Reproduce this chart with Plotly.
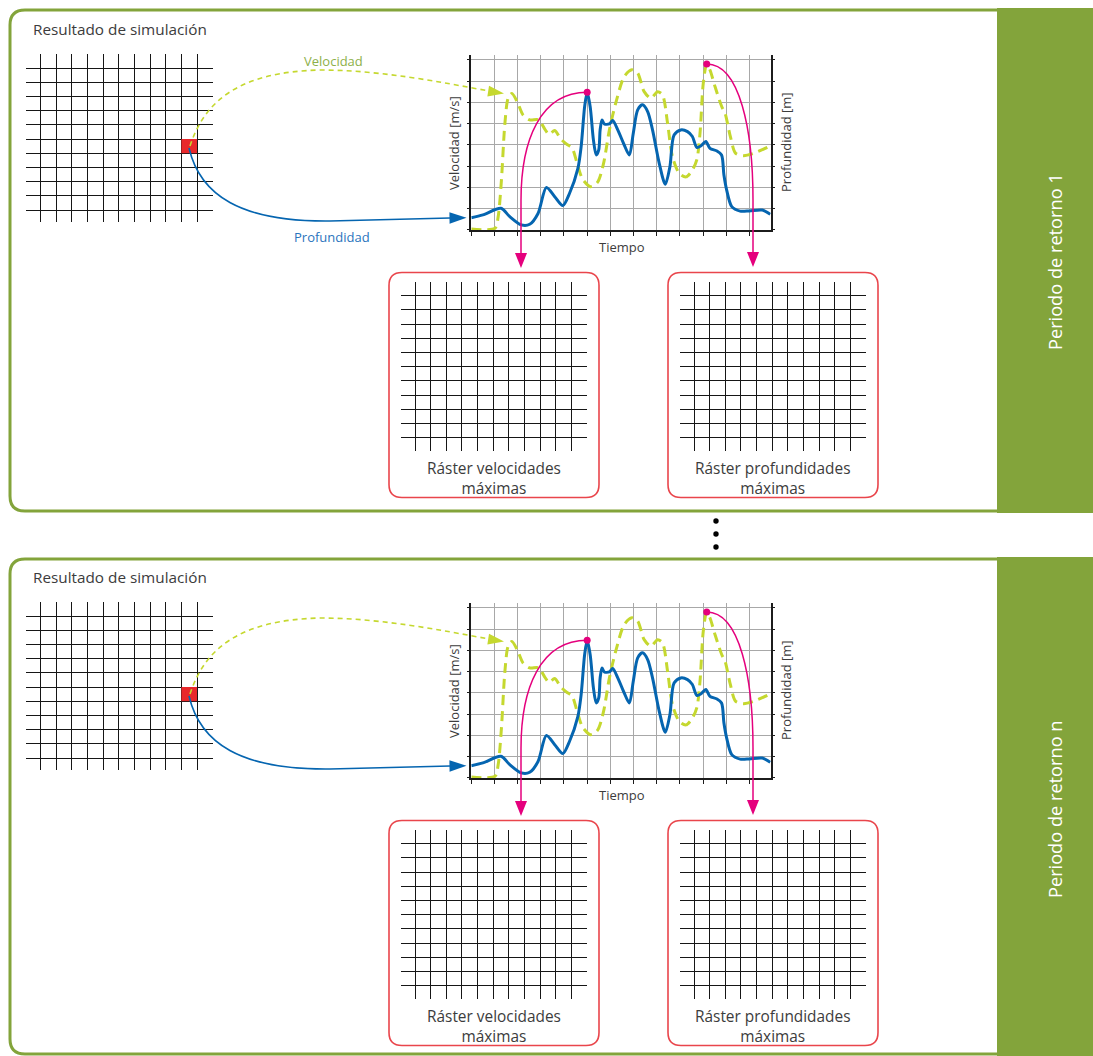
import math
import plotly.graph_objects as go

# ---------------- data ----------------
time_depth = [0, 0.5, 1.28, 1.66, 2.16, 2.52, 2.88, 3.24, 3.6, 3.95, 4.24, 4.6, 4.74, 4.89, 5.0, 5.13,
              5.27, 5.39, 5.5, 5.56, 5.64, 5.74, 5.96, 6.1, 6.32, 6.6, 6.82, 6.99, 7.18, 7.39, 7.61, 7.82,
              8.11, 8.37, 8.57, 8.75, 9.04, 9.33, 9.54, 9.73, 9.9, 10.12, 10.3, 10.6, 10.8, 10.9, 11.02,
              11.24, 11.6, 12.0, 12.55, 12.9]
depth = [0.58, 0.71, 1.02, 0.63, 0.24, 0.27, 0.78, 2.0, 1.57, 1.15, 1.73, 2.9, 3.92, 5.8, 6.48, 5.8,
         4.24, 3.53, 3.77, 4.71, 5.18, 4.99, 4.99, 5.15, 4.71, 4.0, 3.53, 4.55, 5.65, 5.89, 5.57, 4.71,
         3.14, 2.15, 2.98, 4.47, 4.71, 4.63, 4.4, 3.89, 3.95, 4.16, 3.84, 3.72, 3.53, 2.6, 1.88,
         1.1, 0.89, 0.9, 0.94, 0.74]

time_vel = [0, 1.02, 1.16, 1.3, 1.45, 1.59, 1.75, 1.98, 2.23, 2.52, 2.9, 3.17, 3.35, 3.6, 3.85, 4.1,
            4.35, 4.55, 4.8, 5.15, 5.45, 5.7, 5.96, 6.25, 6.6, 6.93, 7.18, 7.46, 7.75, 8.04, 8.25, 8.47,
            8.68, 8.97, 9.26, 9.5, 9.73, 9.87, 10.01, 10.16, 10.3, 10.52, 10.81, 10.95, 11.18, 11.4,
            11.74, 12.16, 12.9]
velocity = [0.05, 0.08, 0.63, 2.35, 5.02, 6.2, 6.42, 6.04, 5.42, 5.18, 5.18, 4.75, 4.5, 4.68, 4.3, 4.05,
            3.85, 3.2, 2.4, 2.04, 2.25, 3.1, 4.71, 6.04, 7.22, 7.54, 7.38, 6.51, 6.2, 6.51, 6.36, 5.02,
            3.45, 2.67, 2.5, 2.75, 3.3, 4.56, 6.9, 7.81, 7.53, 6.74, 5.8, 5.5, 4.39, 3.62,
            3.5, 3.6, 3.95]

grid_lines = list(range(11))          # 11 x 11 lines in every raster grid
highlight_cell = (9, 5)               # (column, row) of the sampled cell
chart_x_ticks = list(range(13))
chart_y_ticks = list(range(9))

section_title = "Resultado de simulación"
panel_titles = ["Periodo de retorno 1", "Periodo de retorno n"]
raster_labels = ["Ráster velocidades<br>máximas", "Ráster profundidades<br>máximas"]
x_title = "Tiempo"
vel_title = "Velocidad [m/s]"
dep_title = "Profundidad [m]"
arrow_labels = ["Velocidad", "Profundidad"]

# ---------------- style / geometry ----------------
W, H = 1093, 1056
PANEL_DY = 548
FONT = "Open Sans"
TEXT = "#3c3c3c"
GREEN = "#83a43b"
BLUE = "#0565b0"
LIME = "#c5d82f"
MAGENTA = "#e5007d"
RED_CELL = "#e8282b"
RED_BOX = "#e9454b"
GRID_DARK = "#161616"
GRID_LIGHT = "#a8a8a8"
AXIS = "#1c1c1c"

CX0, CX1 = 471.3, 770.7
CY_BOT = 230.0
X_MAX, Y_MAX = 12.92, 8.25
Y_UNIT = 21.25
CY_TOP = CY_BOT - Y_MAX * Y_UNIT


def px(x):
    return x / W


def py(y):
    return 1 - y / H


fig = go.Figure()
layout = {}
shapes = []
annotations = []
counter = {"x": 1, "y": 1}


def next_ax(kind):
    counter[kind] += 1
    return counter[kind]


# canvas axes (pixel coordinates)
layout["xaxis"] = dict(domain=[0, 1], range=[0, W], visible=False, fixedrange=True)
layout["yaxis"] = dict(domain=[0, 1], range=[H, 0], visible=False, fixedrange=True)
fig.add_trace(go.Scatter(x=[None], y=[None], xaxis="x", yaxis="y", showlegend=False, hoverinfo="skip"))


def add_grid(x0, sx, L, R, y0, sy, T, B):
    kx = next_ax("x")
    ky = next_ax("y")
    common = dict(tickvals=grid_lines, showgrid=True, gridcolor=GRID_DARK, gridwidth=1.4,
                  zeroline=False, showline=False, showticklabels=False, ticks="", fixedrange=True)
    layout[f"xaxis{kx}"] = dict(domain=[px(L), px(R)], range=[(L - x0) / sx, (R - x0) / sx],
                                anchor=f"y{ky}", **common)
    layout[f"yaxis{ky}"] = dict(domain=[py(B), py(T)], range=[(B - y0) / sy, (T - y0) / sy],
                                anchor=f"x{kx}", **common)
    fig.add_trace(go.Scatter(x=[None], y=[None], xaxis=f"x{kx}", yaxis=f"y{ky}",
                             showlegend=False, hoverinfo="skip"))
    return kx, ky


def chart_px(t, v, dy):
    return (CX0 + t / X_MAX * (CX1 - CX0), CY_BOT + dy - v * Y_UNIT)


def tri(tip, angle_deg, length, width):
    tx, ty = tip
    a = math.radians(angle_deg)
    dx, dy = math.cos(a), math.sin(a)
    bx, by = tx - dx * length, ty - dy * length
    nx, ny = -dy, dx
    p1 = (bx + nx * width / 2, by + ny * width / 2)
    p2 = (bx - nx * width / 2, by - ny * width / 2)
    return f"M {tx},{ty} L {p1[0]},{p1[1]} L {p2[0]},{p2[1]} Z"


def rrect(x0, y0, x1, y1, r):
    return (f"M {x0 + r},{y0} L {x1 - r},{y0} Q {x1},{y0} {x1},{y0 + r} L {x1},{y1 - r} "
            f"Q {x1},{y1} {x1 - r},{y1} L {x0 + r},{y1} Q {x0},{y1} {x0},{y1 - r} "
            f"L {x0},{y0 + r} Q {x0},{y0} {x0 + r},{y0} Z")


def canvas_shape(**kw):
    d = dict(xref="x", yref="y")
    d.update(kw)
    shapes.append(d)


def note(x, y, text, size, color=TEXT, **kw):
    d = dict(x=x, y=y, xref="x", yref="y", text=text, showarrow=False,
             font=dict(family=FONT, size=size, color=color))
    d.update(kw)
    annotations.append(d)


vi = max(range(len(velocity)), key=lambda i: velocity[i])
di = max(range(len(depth)), key=lambda i: depth[i])

for p in range(2):
    dy = p * PANEL_DY
    top, bot = 10 + dy + (1 if p else 0), (511 if p == 0 else 1054)

    # panel frame and side bar
    canvas_shape(type="path", layer="below",
                 path=f"M {W},{top} L 25,{top} Q 10,{top} 10,{top + 15} L 10,{bot - 15} "
                      f"Q 10,{bot} 25,{bot} L {W},{bot}",
                 line=dict(color=GREEN, width=3))
    canvas_shape(type="rect", layer="below", x0=997, x1=W, y0=top - 2, y1=(bot + 2 if p == 0 else H),
                 fillcolor=GREEN, line=dict(width=0))
    note(1055, 262 + dy, panel_titles[p], 18.2, color="white", textangle=-90)
    note(31, 29 + dy, section_title, 15.3, xanchor="left")

    # simulation grid with highlighted cell
    gx, gy = add_grid(40.7, 15.63, 26, 213, 68 + dy, 14.2, 54 + dy, 222 + dy)
    shapes.append(dict(type="rect", xref=f"x{gx}", yref=f"y{gy}", layer="between",
                       x0=highlight_cell[0], x1=highlight_cell[0] + 1,
                       y0=highlight_cell[1], y1=highlight_cell[1] + 1,
                       fillcolor=RED_CELL, line=dict(width=0)))

    # raster output boxes
    for j, bx in enumerate([0, 279]):
        add_grid(415 + bx, 15.63, 400.7 + bx, 587.3 + bx, 295.7 + dy, 14.2, 281.7 + dy, 450.7 + dy)
        canvas_shape(type="path", layer="below",
                     path=rrect(389 + bx, 272.5 + dy, 599 + bx, 497.5 + dy, 13),
                     line=dict(color=RED_BOX, width=1.6))
        note(494 + bx, 478.5 + dy, raster_labels[j], 15.4)

    # time-series chart
    xk = next_ax("x")
    yv = next_ax("y")
    yd = next_ax("y")
    layout[f"xaxis{xk}"] = dict(domain=[px(CX0), px(CX1)], range=[0, X_MAX], tickvals=chart_x_ticks,
                                showgrid=True, gridcolor=GRID_LIGHT, gridwidth=1.4, zeroline=False,
                                showline=True, linecolor=AXIS, linewidth=1.5, ticks="outside",
                                ticklen=4, tickwidth=1.3, tickcolor=AXIS, showticklabels=False,
                                anchor=f"y{yv}", fixedrange=True)
    ydom = [py(CY_BOT + dy), py(CY_TOP + dy)]
    layout[f"yaxis{yv}"] = dict(domain=ydom, range=[0, Y_MAX], tickvals=chart_y_ticks,
                                showgrid=True, gridcolor=GRID_LIGHT, gridwidth=1.4, zeroline=False,
                                showline=True, linecolor=AXIS, linewidth=1.5, ticks="outside",
                                ticklen=3, tickwidth=1.3, tickcolor=AXIS, showticklabels=False,
                                anchor=f"x{xk}", fixedrange=True)
    layout[f"yaxis{yd}"] = dict(domain=ydom, range=[0, Y_MAX], tickvals=chart_y_ticks,
                                overlaying=f"y{yv}", side="right", anchor=f"x{xk}",
                                showgrid=False, zeroline=False, showline=True, linecolor=AXIS,
                                linewidth=1.5, ticks="outside", ticklen=3, tickwidth=1.3,
                                tickcolor=AXIS, showticklabels=False, fixedrange=True)

    fig.add_trace(go.Scatter(x=time_vel, y=velocity, xaxis=f"x{xk}", yaxis=f"y{yv}", mode="lines",
                             line=dict(color=LIME, width=3, dash="10px,6px", shape="spline",
                                       smoothing=0.8),
                             showlegend=False, hoverinfo="skip"))
    fig.add_trace(go.Scatter(x=time_depth, y=depth, xaxis=f"x{xk}", yaxis=f"y{yd}", mode="lines",
                             line=dict(color=BLUE, width=3, shape="spline", smoothing=0.8),
                             showlegend=False, hoverinfo="skip"))
    fig.add_trace(go.Scatter(x=[time_vel[vi]], y=[velocity[vi]], xaxis=f"x{xk}", yaxis=f"y{yv}",
                             mode="markers", marker=dict(color=MAGENTA, size=7), cliponaxis=False,
                             showlegend=False, hoverinfo="skip"))
    fig.add_trace(go.Scatter(x=[time_depth[di]], y=[depth[di]], xaxis=f"x{xk}", yaxis=f"y{yd}",
                             mode="markers", marker=dict(color=MAGENTA, size=7), cliponaxis=False,
                             showlegend=False, hoverinfo="skip"))

    note(621.5, 247 + dy, x_title, 13)
    note(454, 143 + dy, vel_title, 13, textangle=-90)
    note(786, 142 + dy, dep_title, 13, textangle=-90)

    # magenta connectors from the peaks to the rasters
    sx, sy = chart_px(time_depth[di], depth[di], dy)
    ex = 521
    canvas_shape(type="path", layer="above",
                 path=f"M {sx},{sy} C {sx - 47},{sy} {ex},{sy + 48} {ex},{sy + 108} L {ex},{254 + dy}",
                 line=dict(color=MAGENTA, width=1.5))
    canvas_shape(type="path", layer="above", path=tri((ex, 268 + dy), 90, 15, 12),
                 fillcolor=MAGENTA, line=dict(width=0))
    sx, sy = chart_px(time_vel[vi], velocity[vi], dy)
    ex = 753
    canvas_shape(type="path", layer="above",
                 path=f"M {sx},{sy} C {sx + 33},{sy} {ex},{sy + 66} {ex},{sy + 136} L {ex},{253 + dy}",
                 line=dict(color=MAGENTA, width=1.5))
    canvas_shape(type="path", layer="above", path=tri((ex, 267 + dy), 90, 15, 12),
                 fillcolor=MAGENTA, line=dict(width=0))

    # sampling arrows from the highlighted cell
    canvas_shape(type="path", layer="above",
                 path=f"M 189,{148 + dy} C 200,{195 + dy} 240,{222 + dy} 330,{221 + dy} L 450,{218 + dy}",
                 line=dict(color=BLUE, width=1.6))
    canvas_shape(type="path", layer="above", path=tri((466.5, 217.7 + dy), -1, 17, 11.5),
                 fillcolor=BLUE, line=dict(width=0))
    canvas_shape(type="path", layer="above",
                 path=f"M 190,{146 + dy} C 205,{100 + dy} 240,{72 + dy} 320,{70 + dy} "
                      f"C 380,{70 + dy} 440,{82 + dy} 489,{91 + dy}",
                 line=dict(color=LIME, width=1.6, dash="5px,4px"))
    canvas_shape(type="path", layer="above", path=tri((504, 93.5 + dy), 8.7, 16, 11),
                 fillcolor=LIME, line=dict(width=0))
    if p == 0:
        note(333, 61, arrow_labels[0], 13, color="#8db04a")
        note(332, 237, arrow_labels[1], 13, color="#2a74bd")

# ellipsis between the two panels
for yy in (521, 534, 547):
    canvas_shape(type="circle", layer="above", x0=713.3, x1=718.7, y0=yy - 2.7, y1=yy + 2.7,
                 fillcolor="black", line=dict(width=0))

layout.update(dict(width=W, height=H, margin=dict(l=0, r=0, t=0, b=0), showlegend=False,
                   paper_bgcolor="white", plot_bgcolor="rgba(0,0,0,0)",
                   shapes=shapes, annotations=annotations, font=dict(family=FONT, color=TEXT)))
fig.update_layout(**layout)
fig.write_html("out.html", config={"displayModeBar": False},
               post_script="document.body.style.margin='0px';")
